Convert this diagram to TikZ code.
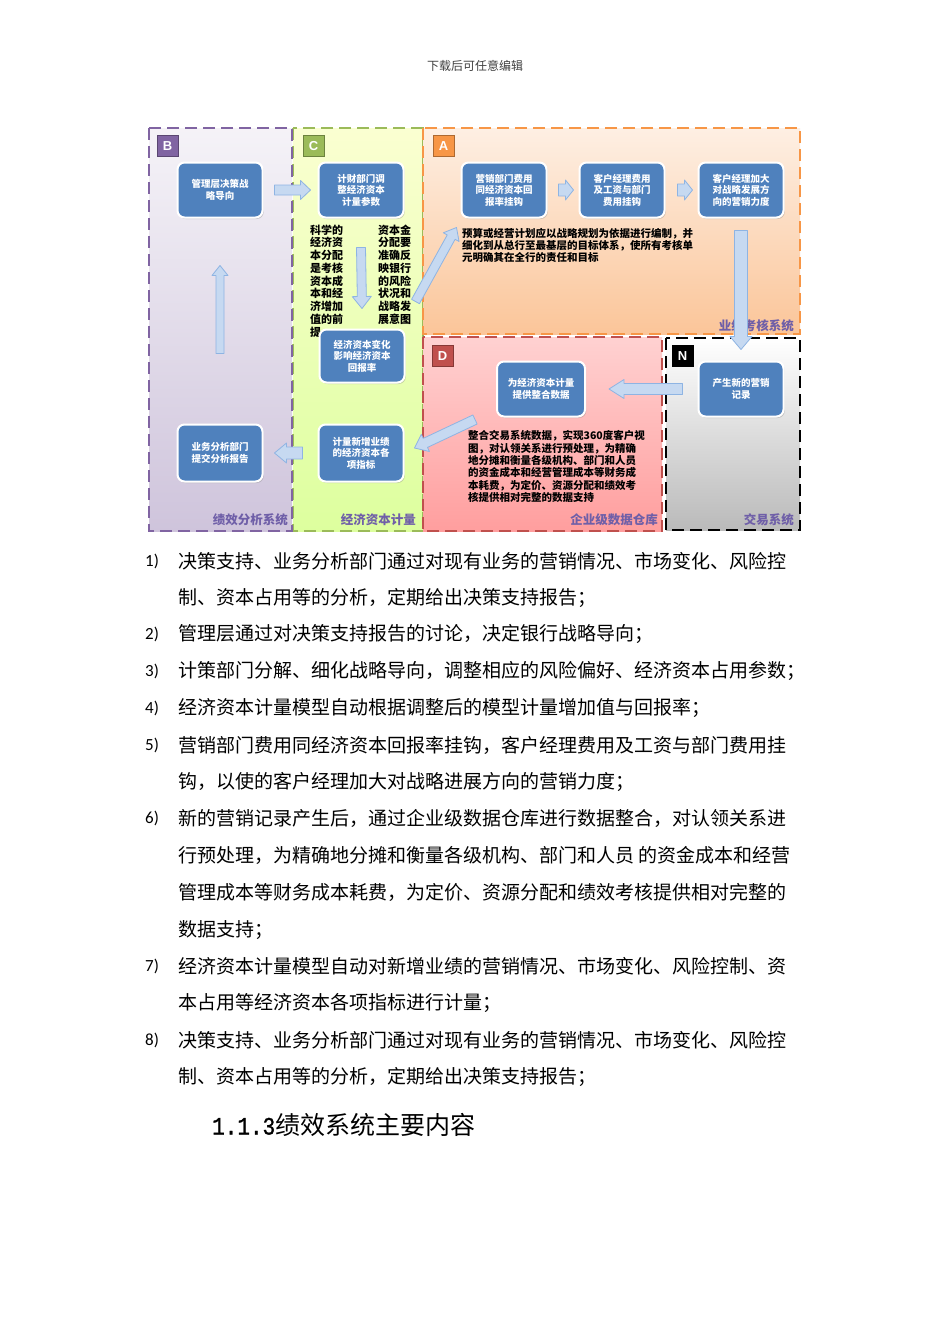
\documentclass[tikz,border=0pt]{standalone}
\usepackage{fontspec}
\setmainfont{Noto Sans CJK SC}
\newfontfamily\numfont{Carlito}
\newfontfamily\tagfont{Liberation Sans}
\newfontfamily\headmono[FakeStretch=0.84,FakeBold=1.2]{Liberation Mono}
\usetikzlibrary{calc,shadows}
\definecolor{boxblue}{HTML}{4F81BD}
\definecolor{arrowfill}{HTML}{C6D9F1}
\definecolor{arrowdraw}{HTML}{8EB4E3}
\definecolor{purp}{HTML}{8064A2}
\definecolor{grn}{HTML}{9BBB59}
\definecolor{orng}{HTML}{F79646}
\definecolor{redd}{HTML}{C0504D}
\definecolor{lbl}{HTML}{6F5FA8}
\tikzset{
  region/.style={line width=2.8pt, dash pattern=on 12pt off 6pt},
  tag/.style={minimum size=21pt, inner sep=0pt, line width=1pt, text=white,
    font=\tagfont\bfseries\fontsize{13}{13}\selectfont},
  box/.style={rounded corners=7pt, fill=boxblue, draw=white, line width=2pt,
    text=white, align=center, inner sep=1pt, minimum width=85pt, minimum height=55pt,
    font=\bfseries\fontsize{9.5}{11.5}\selectfont,
    drop shadow={opacity=0.35, shadow xshift=1.2pt, shadow yshift=-1.5pt}},
  barrowst/.style={fill=arrowfill, draw=arrowdraw, line width=0.8pt, line join=round},
  barrow/.style n args={3}{to path={
    let \p1=(\tikztostart), \p2=(\tikztotarget), \n1={atan2(\y2-\y1,\x2-\x1)} in
    ($(\p1)+({\n1+90}:#1)$) -- ($(\p2)+({\n1+180}:#3)+({\n1+90}:#1)$)
    -- ($(\p2)+({\n1+180}:#3)+({\n1+90}:#2)$) -- (\p2)
    -- ($(\p2)+({\n1+180}:#3)+({\n1-90}:#2)$) -- ($(\p2)+({\n1+180}:#3)+({\n1-90}:#1)$)
    -- ($(\p1)+({\n1-90}:#1)$) -- cycle}},
  para/.style={anchor=north west, inner sep=0pt, align=left, text=black},
  sysl/.style={anchor=east, inner sep=0pt, text=lbl, font=\bfseries\fontsize{12.5}{13}\selectfont},
  body/.style={anchor=west, inner sep=0pt, font=\fontsize{19}{21}\selectfont},
  num/.style={anchor=west, inner sep=0pt, font=\numfont\fontsize{17}{19}\selectfont}
}
\begin{document}
\begin{tikzpicture}[x=1pt, y=-1pt]
\useasboundingbox (0,0) rectangle (950,1344);
\fill[white] (0,0) rectangle (950,1344);

\node[inner sep=0pt, text=black!75, font=\fontsize{12}{13}\selectfont] (hdr) at (475,66) {下载后可任意编辑};

% regions
\draw[region, draw=grn, top color=green!10!yellow!18!white, bottom color=green!35!yellow!38!white] (293,128) rectangle (423,531);
\draw[region, draw=purp, top color=purp!8!white, bottom color=purp!38!white] (149,128) rectangle (292,531);
\draw[region, draw=orng, top color=orng!15!white, bottom color=orng!55!white] (423,128) rectangle (800,334);
\draw[region, draw=redd, top color=red!18!white, bottom color=red!38!white] (423,337) rectangle (662,531);
\draw[region, draw=black, top color=white, bottom color=black!27] (666,338) rectangle (800,530);

% tags
\node[tag, fill=purp, draw=purp!70!black] (tB) at (167.5,146) {B};
\node[tag, fill=grn, draw=grn!70!black] (tC) at (313.5,146) {C};
\node[tag, fill=orng, draw=orng!70!black] (tA) at (443.5,146) {A};
\node[tag, fill=redd, draw=redd!70!black] (tD) at (442.5,356) {D};
\node[tag, fill=black, draw=black] (tN) at (682.5,356) {N};

% texts
\node[para, font=\bfseries\fontsize{11}{12.75}\selectfont] (cl) at (310,224.5)
 {科学的\\经济资\\本分配\\是考核\\资本成\\本和经\\济增加\\值的前\\提。};
\node[para, font=\bfseries\fontsize{11}{12.75}\selectfont] (cr) at (378,224.5)
 {资本金\\分配要\\准确反\\映银行\\的风险\\状况和\\战略发\\展意图};
\node[para, font=\bfseries\fontsize{10.5}{11.8}\selectfont] (at) at (462,228.5)
 {预算或经营计划应以战略规划为依据进行编制，并\\细化到从总行至最基层的目标体系，使所有考核单\\元明确其在全行的责任和目标};
\node[para, font=\bfseries\fontsize{10.5}{12.3}\selectfont] (dt) at (468,430.5)
 {整合交易系统数据，实现360度客户视\\图，对认领关系进行预处理，为精确\\地分摊和衡量各级机构、部门和人员\\的资金成本和经营管理成本等财务成\\本耗费，为定价、资源分配和绩效考\\核提供相对完整的数据支持};

% system labels
\node[sysl] (lB) at (288,520) {绩效分析系统};
\node[sysl] (lC) at (416,520) {经济资本计量};
\node[sysl] (lA) at (794,326) {业绩考核系统};
\node[sysl] (lD) at (658,520) {企业级数据仓库};
\node[sysl] (lN) at (794,520) {交易系统};

% boxes
\node[box] (b1) at (220,190) {管理层决策战\\略导向};
\node[box] (c1) at (361,190) {计财部门调\\整经济资本\\计量参数};
\node[box] (a1) at (504,190) {营销部门费用\\同经济资本回\\报率挂钩};
\node[box] (a2) at (622,190) {客户经理费用\\及工资与部门\\费用挂钩};
\node[box] (a3) at (741,190) {客户经理加大\\对战略发展方\\向的营销力度};
\node[box, minimum height=53pt] (c2) at (362,356) {经济资本变化\\影响经济资本\\回报率};
\node[box, minimum height=57pt] (b2) at (220,453) {业务分析部门\\提交分析报告};
\node[box, minimum height=57pt] (c3) at (361,453) {计量新增业绩\\的经济资本各\\项指标};
\node[box, minimum width=88pt] (d1) at (541,389) {为经济资本计量\\提供整合数据};
\node[box] (n1) at (741,389) {产生新的营销\\记录};

% block arrows
\draw[barrowst] ($(b1.east)+(11,0)$) to[barrow={5pt}{9.5pt}{10pt}] ($(c1.west)+(-7,0)$);
\draw[barrowst] ($(c1.south)+(0,29)$) to[barrow={4.5pt}{9.5pt}{12pt}] ($(c2.north)+(0,-20)$);
\draw[barrowst] ($(b2.north)+(0,-70)$) to[barrow={4pt}{8pt}{10pt}] ($(b1.south)+(0,47)$);
\draw[barrowst] ($(c2.north east)+(10,-27)$) to[barrow={4.5pt}{9pt}{11pt}] ($(a1.south west)+(-4,9)$);
\draw[barrowst] ($(a1.east)+(11,0)$) to[barrow={6pt}{10pt}{8pt}] ($(a2.west)+(-5,0)$);
\draw[barrowst] ($(a2.east)+(12,0)$) to[barrow={6pt}{10pt}{8pt}] ($(a3.west)+(-5,0)$);
\draw[barrowst] ($(a3.south)+(0,12)$) to[barrow={6.5pt}{11pt}{13pt}] ($(n1.north)+(0,-11)$);
\draw[barrowst] ($(n1.west)+(-15,0)$) to[barrow={5.5pt}{9.5pt}{15pt}] ($(d1.east)+(23,0)$);
\draw[barrowst] ($(d1.south west)+(-21,2)$) to[barrow={5pt}{9.5pt}{12pt}] ($(c3.east)+(10,-5)$);
\draw[barrowst] ($(c3.west)+(-15,0)$) to[barrow={6pt}{10pt}{12pt}] ($(b2.east)+(11,0)$);

% body list
\node[num] (n1l) at (145,561) {1)};
\node[body] (t1a) at (178,561) {决策支持、业务分析部门通过对现有业务的营销情况、市场变化、风险控};
\node[body] (t1b) at (178,598) {制、资本占用等的分析，定期给出决策支持报告；};
\node[num] (n2l) at (145,634) {2)};
\node[body] (t2a) at (178,634) {管理层通过对决策支持报告的讨论，决定银行战略导向；};
\node[num] (n3l) at (145,671) {3)};
\node[body] (t3a) at (178,671) {计策部门分解、细化战略导向，调整相应的风险偏好、经济资本占用参数；};
\node[num] (n4l) at (145,708) {4)};
\node[body] (t4a) at (178,708) {经济资本计量模型自动根据调整后的模型计量增加值与回报率；};
\node[num] (n5l) at (145,745) {5)};
\node[body] (t5a) at (178,745) {营销部门费用同经济资本回报率挂钩，客户经理费用及工资与部门费用挂};
\node[body] (t5b) at (178,782) {钩，以使的客户经理加大对战略进展方向的营销力度；};
\node[num] (n6l) at (145,818) {6)};
\node[body] (t6a) at (178,818) {新的营销记录产生后，通过企业级数据仓库进行数据整合，对认领关系进};
\node[body] (t6b) at (178,855) {行预处理，为精确地分摊和衡量各级机构、部门和人员\ 的资金成本和经营};
\node[body] (t6c) at (178,892) {管理成本等财务成本耗费，为定价、资源分配和绩效考核提供相对完整的};
\node[body] (t6d) at (178,930) {数据支持；};
\node[num] (n7l) at (145,966) {7)};
\node[body] (t7a) at (178,966) {经济资本计量模型自动对新增业绩的营销情况、市场变化、风险控制、资};
\node[body] (t7b) at (178,1003) {本占用等经济资本各项指标进行计量；};
\node[num] (n8l) at (145,1040) {8)};
\node[body] (t8a) at (178,1040) {决策支持、业务分析部门通过对现有业务的营销情况、市场变化、风险控};
\node[body] (t8b) at (178,1077) {制、资本占用等的分析，定期给出决策支持报告；};

\node[anchor=west, inner sep=0pt] (head) at (212,1125)
 {{\headmono\fontsize{25}{28}\selectfont 1.1.3}{\fontsize{25}{28}\selectfont 绩效系统主要内容}};
\end{tikzpicture}
\end{document}
